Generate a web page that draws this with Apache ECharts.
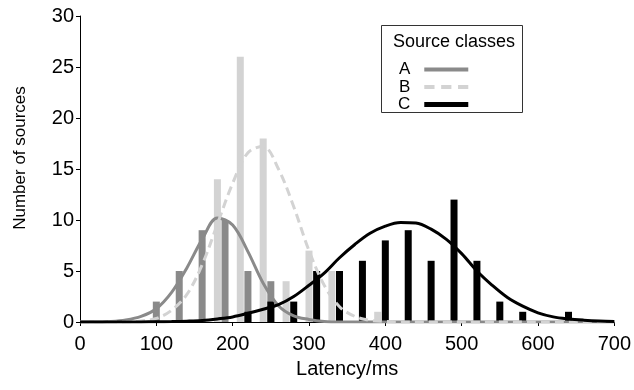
<!DOCTYPE html>
<html>
<head>
<meta charset="utf-8">
<script src="https://cdn.jsdelivr.net/npm/echarts/dist/echarts.min.js"></script>
<style>
html,body{margin:0;padding:0;background:#fff;}
#chart{width:634px;height:390px;}
</style>
</head>
<body>
<div id="chart"></div>
<script>
// Histogram bars (bin centre in ms, count)
const barA_x = [100, 130, 160, 190, 220, 250];
const barA_y = [2, 5, 9, 10, 5, 4];
const barB_x = [180, 210, 240, 270, 300, 330, 390];
const barB_y = [14, 26, 18, 4, 7, 5, 1];
const barC_x = [220, 250, 280, 310, 340, 370, 400, 430, 460, 490, 520, 550, 580, 640];
const barC_y = [1, 2, 2, 5, 5, 6, 8, 9, 6, 12, 6, 2, 1, 1];

// Fitted curves, every 20 ms
const curveX = [0, 20, 40, 60, 80, 100, 120, 140, 160, 180, 200, 220, 240, 260, 280, 300, 320, 340, 360, 380, 400, 420, 440, 460, 480, 500, 520, 540, 560, 580, 600, 620, 640, 660, 680, 700];
const curveA = [0, 0, 0.05, 0.2, 0.55, 1.3, 2.9, 5.3, 8.1, 10.2, 9.5, 6.9, 3.8, 1.6, 0.6, 0.25, 0.05, 0, 0, 0, 0, 0, 0, 0, 0, 0, 0, 0, 0, 0, 0, 0, 0, 0, 0, 0];
const curveB = [0, 0, 0, 0.02, 0.1, 0.35, 1.15, 2.7, 5.6, 9.6, 13.6, 16.6, 17.2, 15.0, 11.3, 7.0, 3.6, 1.5, 0.55, 0.17, 0.05, 0, 0, 0, 0, 0, 0, 0, 0, 0, 0, 0, 0, 0, 0, 0];
const curveC = [0, 0, 0, 0, 0.01, 0.02, 0.04, 0.08, 0.15, 0.3, 0.5, 0.85, 1.25, 1.7, 2.5, 3.6, 4.8, 6.3, 7.6, 8.7, 9.4, 9.75, 9.7, 9.1, 8.1, 6.7, 5.0, 3.6, 2.4, 1.55, 0.9, 0.5, 0.3, 0.18, 0.1, 0.06];

const xTicks = { min: 0, max: 700, interval: 100 };
const yTicks = { min: 0, max: 30, interval: 5 };
const classNames = ['A', 'B', 'C'];

const FONT = 'Liberation Sans, Arial, Helvetica, sans-serif';
const colA = '#8a8a8a', colB = '#d3d3d3', colC = '#000000';

function zip(xs, ys) { return xs.map((x, i) => [x, ys[i]]); }

const chart = echarts.init(document.getElementById('chart'), null, { renderer: 'canvas' });

function barSeries(name, xs, ys, color) {
  return {
    name: name, type: 'bar', data: zip(xs, ys), barWidth: 7, barGap: '-100%',
    itemStyle: { color: color }, silent: true
  };
}
function lineSeries(name, ys, color, type) {
  return {
    name: name, type: 'line', data: zip(curveX, ys), smooth: 0.35, symbol: 'none',
    lineStyle: { color: color, width: 3, type: type }, itemStyle: { color: color }, silent: true
  };
}

chart.setOption({
  animation: false,
  textStyle: { fontFamily: FONT },
  grid: { left: 80, right: 16, top: 16, bottom: 68, containLabel: false },
  xAxis: {
    type: 'value', min: xTicks.min, max: xTicks.max, interval: xTicks.interval,
    name: 'Latency/ms', nameLocation: 'middle', nameGap: 37,
    nameTextStyle: { fontSize: 20, color: '#000', fontFamily: FONT },
    axisLine: { show: true, onZero: false, lineStyle: { color: '#000', width: 1 } },
    axisTick: { show: true, inside: false, length: 4, lineStyle: { color: '#000' } },
    axisLabel: { fontSize: 20, color: '#000', margin: 12, fontFamily: FONT },
    splitLine: { show: false }
  },
  yAxis: {
    type: 'value', min: yTicks.min, max: yTicks.max, interval: yTicks.interval,
    name: 'Number of sources', nameLocation: 'middle', nameGap: 51, nameRotate: 90,
    nameTextStyle: { fontSize: 17, color: '#000', fontFamily: FONT, padding: [0, 0, 0, 22] },
    axisLine: { show: true, lineStyle: { color: '#000', width: 1 } },
    axisTick: { show: true, inside: false, length: 4, lineStyle: { color: '#000' } },
    axisLabel: { fontSize: 20, color: '#000', margin: 6, fontFamily: FONT },
    splitLine: { show: false }
  },
  legend: {
    orient: 'vertical', left: 393, top: 56, align: 'right',
    itemWidth: 44, itemHeight: 5, itemGap: 0.5, selectedMode: false,
    textStyle: { fontSize: 17, color: '#000', fontFamily: FONT, padding: [0, 9, 0, 0] },
    data: [
      { name: classNames[0], icon: 'path://M0,0h44v4h-44z' },
      { name: classNames[1], icon: 'path://M0,0h10v4h-10zM16.5,0h10v4h-10zM33,0h10v4h-10z' },
      { name: classNames[2], icon: 'rect' }
    ]
  },
  graphic: [
    { type: 'rect', left: 381, top: 25, shape: { width: 141, height: 87 },
      style: { fill: '#fff', stroke: '#333', lineWidth: 1 }, z: 0 },
    { type: 'text', left: 393, top: 33,
      style: { text: 'Source classes', font: '18px ' + FONT, fill: '#000' }, z: 1 }
  ],
  series: [
    barSeries('A bars', barA_x, barA_y, colA),
    barSeries('B bars', barB_x, barB_y, colB),
    barSeries('C bars', barC_x, barC_y, colC),
    lineSeries(classNames[0], curveA, colA, 'solid'),
    lineSeries(classNames[1], curveB, colB, [9, 5]),
    lineSeries(classNames[2], curveC, colC, 'solid')
  ]
});
</script>
</body>
</html>
